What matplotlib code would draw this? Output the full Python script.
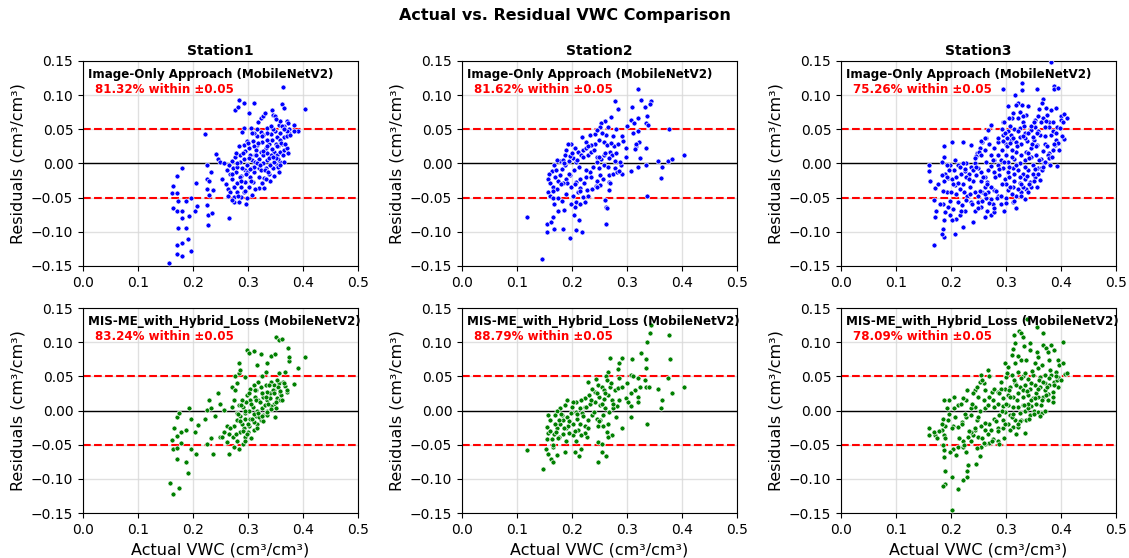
import numpy as np
import matplotlib
matplotlib.use("Agg")
import matplotlib.pyplot as plt

# ---- data (values in thousandths of cm3/cm3) ----
stations = ["Station1", "Station2", "Station3"]
models = ["Image-Only Approach (MobileNetV2)", "MIS-ME_with_Hybrid_Loss (MobileNetV2)"]
within_pct = [["81.32%", "81.62%", "75.26%"], ["83.24%", "88.79%", "78.09%"]]

s1_img_x = [156,171,180,163,162,171,173,163,171,180,180,172,188,196,192,188,171,180,191,171,180,196,204,208,205,222,226,226,229,226,229,226,228,234,228,233,237,241,245,250,253,257,260,263,266,277,281,283,293,301,310,297,307,
            293,305,289,318,323,327,331,343,345,349,361,365,364,403,356,371,373,383,391,375,374,334,323,317,309,298,292,283,294,285,277,271,265,273,279,287,295,298,307,313,323,332,338,344,352,359,366,362,354,347,341,335,328,320,311,303,295,288,280,274,275,283,280,271,267,262,
            353,358,364,366,371,359,353,346,338,329,326,320,309,301,292,288,329,317,326,334,341,349,365,358,350,310,301,304,312,320,328,335,292,285,280,289,298,307,317,323,332,340,347,354,275,268,264,271,310,317,335,328,366,370,359,350,344,
            270,275,280,285,290,295,300,305,310,315,320,325,330,335,340,345,350,355,360,365,370,298,302,308,312,318,322,328,332,338,342,348,352,358,362,368,372,288,282,278,296,304,314,326,336,346,356,366,376,384]
s1_img_y = [-146,-19,-7,-33,-43,-43,-55,-65,-70,-69,-80,-94,-55,-50,-77,-94,-119,-117,-110,-133,-135,-128,-69,-62,-28,43,-2,-22,-26,-37,-46,-61,-75,-72,-90,-12,-39,14,6,2,-23,1,-30,-37,-80,78,83,93,88,74,88,-59,-46,
            52,52,46,60,67,69,74,78,71,69,87,81,112,80,56,62,59,56,47,51,44,52,46,40,33,33,27,25,18,13,10,3,-2,-7,-12,-18,-10,-2,5,12,17,22,28,34,39,44,39,29,25,17,12,5,0,-6,-13,-20,-27,-34,-42,-49,-56,-56,-29,-22,-15,-10,
            12,17,12,20,22,2,-2,-7,-15,-21,-29,-36,-27,-34,-41,-49,-36,27,31,34,43,48,50,62,65,25,22,12,2,7,12,15,7,2,-5,-7,-12,-7,0,-10,-7,-2,2,6,-34,-42,-47,-54,44,51,44,42,55,47,34,29,21,
            -15,-35,0,-20,15,-40,30,-25,-5,20,-20,40,-10,25,-25,50,8,-5,30,2,40,-50,8,45,-38,30,-2,18,-22,8,55,-18,25,-2,55,28,15,-25,-48,15,-15,-8,12,-28,-12,10,-12,50,42,48]

s2_img_x = [146,119,155,155,161,165,167,175,184,186,196,208,218,204,212,208,205,214,223,220,229,228,237,243,245,251,260,261,264,262,267,267,268,275,278,282,290,286,289,307,320,336,335,357,363,362,374,381,403,377,
            320,326,344,342,333,309,284,279,271,260,252,251,266,262,258,263,249,242,234,225,219,232,242,246,230,220,211,205,198,193,190,187,178,168,163,159,157,160,165,157,160,166,173,174,178,181,187,195,202,208,212,203,196,189,191,199,207,215,222,226,232,238,245,252,258,269,276,284,292,299,298,287,278,272,280,
            317,321,323,334,316,307,312,320,335,339,336,320,314,267,258,249,245,235,226,216,196,184,172,171,184,202,211,215,257,251,269,
            165,170,175,180,185,190,195,200,205,210,215,220,225,230,235,240,245,250,255,260,265,270,275,280,290,300,310,168,182,198]
s2_img_y = [-140,-78,-100,-88,-85,-79,-96,-69,-96,-68,-109,-97,-100,-75,-82,-56,-64,-59,-56,-49,-47,-39,-38,-33,-25,-17,-54,-63,-65,-88,-39,-27,-17,-15,-7,-12,-15,-11,-2,-11,-5,-47,-2,3,-5,-21,4,7,13,50,
            109,93,91,87,82,82,80,91,68,62,59,54,54,42,32,27,34,29,27,31,39,42,43,49,12,20,17,22,28,29,20,12,3,-2,-11,-16,-22,-29,-34,-42,-47,-51,-37,-25,-17,-8,-2,3,8,2,-5,-10,-17,-22,-29,-34,-27,-22,-29,-20,-12,-5,2,7,12,17,25,29,33,22,10,2,3,12,15,
            25,31,8,22,29,64,59,66,59,56,69,47,21,8,-2,-7,10,17,22,12,11,5,5,-10,-29,-47,-42,-36,-22,-32,-29,
            -40,-20,-50,-30,0,-45,-15,15,-30,5,-40,10,-10,25,-20,20,-35,10,45,15,-5,30,40,50,40,55,45,-60,-55,-60]

s3_img_x = [382,294,329,329,357,387,387,394,316,303,321,329,340,326,313,310,321,331,337,352,358,367,365,373,382,391,375,367,378,400,406,411,400,393,406,397,389,382,379,370,361,352,358,346,334,325,314,304,292,295,285,279,270,264,273,267,256,252,248,261,272,285,292,300,309,318,327,339,350,357,346,337,328,319,310,300,291,303,314,325,334,345,355,364,369,358,349,340,331,321,312,303,294,285,278,272,279,288,298,306,315,326,334,343,352,346,337,328,319,310,300,291,319,313,334,296,285,279,273,265,261,255,249,243,236,228,222,213,206,198,192,190,183,187,195,202,210,218,225,232,240,246,254,261,268,272,276,273,261,266,255,249,243,240,236,230,224,216,210,207,213,220,225,228,222,216,210,201,207,198,189,188,186,188,184,169,171,169,171,161,160,160,183,187,187,201,222,236,245,251,255,262,272,295,305,308,255,264,192,186,195,204,234,243,249,256,264,279,284,304,313,322,331,340,349,358,364,370,376,385,391,385,379,370,364,349,335,326,309,302,294,
            300,305,310,315,320,325,330,335,340,345,350,355,360,365,370,375,380,385,390,395,298,302,308,312,318,322,328,332,338,342,348,352,356,362,368,372,378,388,398,282,288,292,296,286,280,276,268,262,258,252,246,240,234,228,222,216,210,204,198,192,186,180,176,172,196,218,238,256,270,244,232,208,200,212,226,250,265,278,290,300,314,328,342,356,368,384,392,402,404,330,340,350,360,318,308,296]
s3_img_y = [149,109,118,108,109,113,109,110,100,84,89,86,84,76,74,66,66,61,71,64,69,94,88,81,78,81,71,66,61,70,72,67,64,54,36,20,27,42,15,29,42,54,47,49,44,52,51,47,51,42,31,22,29,37,56,49,31,23,15,20,12,12,20,29,34,32,29,33,34,27,22,17,12,17,20,12,5,2,7,0,5,10,12,7,0,-7,-2,-10,-15,-10,-7,-12,-7,-2,5,-3,-12,-17,-23,-20,-25,-29,-22,-27,-20,-34,-37,-42,-47,-44,-51,-60,-65,-56,-52,-69,-47,-39,-34,-27,-20,-12,-6,0,-5,0,1,-2,-10,-2,-2,-15,-17,-26,-21,-23,-20,-15,-11,-15,-10,-17,-25,-34,-42,-52,-59,-76,-78,-69,-64,-56,-69,-86,-56,-47,-42,-37,-44,-32,-56,-61,-69,-54,-93,-76,-81,-83,-103,-75,-71,-83,-96,-108,-103,-119,-78,-54,-36,-25,-11,-2,2,10,25,31,31,27,11,17,33,38,57,61,66,55,12,2,-42,-59,-64,-66,-34,-42,-47,-42,-51,-71,-51,-39,-34,-37,-34,-42,-15,-15,-7,2,12,20,34,47,54,54,61,39,37,39,42,37,33,
            -30,-5,10,-15,25,-20,40,-5,15,55,-25,25,5,-10,40,25,-2,60,45,30,45,25,-35,38,-2,48,-30,55,-18,8,28,-8,44,-24,18,62,8,28,52,-40,-8,-30,2,38,-20,5,-10,-45,-20,-40,-5,-25,-45,-20,-30,-5,-45,-30,-55,-20,-40,-60,-30,-70,-10,-70,-60,-55,-58,8,-22,5,-42,-28,-8,-65,-30,-65,-48,-58,-55,-48,-30,-35,-5,10,-3,40,60,70,45,60,80,85,30,60]

s1_hyb_x = [159,163,174,188,191,171,163,171,178,171,179,162,166,171,174,188,197,205,197,192,203,209,221,226,232,229,226,232,236,240,245,250,249,256,261,257,266,271,274,271,277,280,277,283,284,286,294,298,301,310,323,317,335,341,349,351,356,362,373,375,374,403,391,383,368,356,332,326,319,310,304,314,323,332,341,348,356,364,368,371,358,353,359,347,350,349,341,335,327,319,312,304,297,291,283,280,286,294,301,309,317,326,334,340,347,335,326,298,289,280,274,268,265,273,280,275,283,291,295,300,310,317,323,310,301,292,285,289,295,304,314,328,335,262,253,
            285,290,295,300,305,310,315,320,325,330,335,340,345,350,355,360,365,370,298,302,308,312,318,322,328,332,338,342,348,352,358,362,288,282,278,294,306,316,326,336]
s1_hyb_y = [-106,-122,-113,-76,-92,-71,-56,-55,-48,-37,-31,-43,-25,-10,-3,-29,-56,-63,-12,4,-31,-21,-13,1,3,16,-49,-40,-63,-8,25,10,-39,-31,-22,1,-63,5,15,34,30,41,50,55,70,59,49,88,84,87,83,67,70,80,82,107,103,105,91,72,79,79,62,39,57,55,57,50,42,37,31,30,35,37,42,37,40,42,36,27,25,18,15,10,3,-9,6,15,20,15,20,15,13,5,8,-4,-8,-4,0,5,0,4,0,25,30,27,26,23,15,-14,-22,-26,-34,-39,-44,-53,-56,-49,-39,-31,-29,-20,-14,-17,-22,-26,-31,-19,-12,-12,-8,-7,-7,-46,-39,
            -15,-30,0,-20,10,-5,15,-10,25,8,-2,18,30,12,35,22,40,30,-35,25,-12,30,-3,12,-15,20,38,2,25,45,28,15,8,-5,-35,-45,-40,-25,-8,10]

s2_hyb_x = [343,341,377,336,326,334,378,309,291,286,269,284,266,261,263,243,229,248,254,258,269,278,284,286,308,320,333,334,335,340,357,374,381,403,363,362,337,323,314,307,299,301,307,320,320,308,291,286,281,272,266,258,249,242,236,231,223,217,208,201,191,187,178,172,169,157,160,155,157,154,153,157,161,166,148,119,163,167,172,178,184,191,199,207,214,223,232,242,251,260,268,275,257,251,245,248,257,263,272,266,248,254,254,261,248,228,223,217,211,208,205,213,217,202,195,190,184,177,171,165,223,229,236,219,209,202,193,181,177,
            160,165,170,175,180,185,190,195,200,205,210,215,220,225,230,235,240,245,250,255,260,265,270,275,280,290,300,310,172,188]
s2_hyb_y = [125,113,110,100,84,75,76,76,77,69,77,61,57,51,45,46,42,38,34,30,34,30,33,48,52,48,45,62,35,34,32,47,26,35,16,3,-20,35,30,26,19,13,6,20,13,-10,-25,15,6,15,22,17,20,27,32,22,18,15,13,13,16,8,3,0,-7,-7,-14,-24,-33,-41,-57,-64,-71,-76,-86,-58,-41,-34,-26,-20,-14,-9,-4,-2,3,5,9,13,8,3,-2,3,-7,-14,-13,-22,-22,-31,-36,-39,-46,-49,-61,-66,-75,-39,-33,-36,-29,-44,-61,-67,-57,-36,-33,-26,-34,-39,-31,-53,-22,-14,-7,-4,-12,-19,-22,-7,-14,
            -30,-50,-20,-40,-5,-25,-45,-15,5,-30,-5,-20,-8,5,-25,15,-2,25,-15,10,25,-20,40,10,-10,35,40,50,-65,-60]

s3_hyb_x = [339,356,323,328,331,314,367,316,333,343,356,367,373,382,387,403,310,304,316,328,337,352,358,365,379,394,397,403,407,411,391,382,370,361,349,340,331,321,310,300,291,298,307,316,325,334,343,352,361,370,379,387,385,376,367,385,358,349,340,331,321,313,304,295,285,276,270,275,267,270,260,252,255,243,249,260,261,252,243,237,228,222,213,206,196,187,192,186,190,183,187,195,204,213,220,228,237,248,254,261,268,276,285,288,270,261,255,252,246,231,230,229,221,212,201,190,190,186,202,187,187,186,204,212,222,228,222,214,231,240,249,243,236,160,160,171,169,295,304,313,322,316,307,298,288,279,270,285,294,334,325,334,343,351,358,365,364,355,346,340,331,322,313,304,294,337,328,346,370,376,393,395,279,285,291,
            300,305,310,315,320,325,330,335,340,345,350,355,360,365,370,375,380,385,390,395,298,302,308,312,318,322,328,332,338,342,348,352,358,362,368,372,378,388,400,292,288,282,278,272,268,262,256,250,244,238,232,226,220,214,208,202,196,190,184,178,174,198,210,224,236,248,260,274,286,296,308,318,256,262,248,240,230,218,206,298,312,322,344,358,376]
s3_hyb_y = [134,122,117,113,107,111,114,99,94,99,85,96,92,96,89,100,81,64,69,74,74,69,62,67,74,74,67,69,54,55,57,52,52,49,52,46,50,57,52,49,42,32,35,40,34,37,32,37,34,40,37,42,27,24,20,13,20,18,23,20,25,20,23,18,10,15,20,27,59,50,40,42,52,30,20,15,3,0,5,4,15,18,8,3,15,15,3,-12,-22,-29,-36,-14,-22,-24,-17,-9,-7,-14,-22,-29,-34,-41,-44,-49,-47,-49,-53,-66,-78,-80,-88,-98,-102,-115,-98,-88,-107,-111,-146,-68,-58,-50,-56,-53,-53,-61,-44,-40,-39,-36,-39,-29,-32,-26,-36,-36,-31,-14,-19,-24,-24,-14,-7,-2,-7,-12,-19,-26,-26,-33,-4,0,-7,0,-2,-4,8,10,6,3,8,5,5,8,6,-14,-14,15,30,15,44,49,32,27,32,
            10,30,-10,45,15,-15,30,55,10,40,-5,25,45,15,0,35,60,20,50,35,-20,55,20,-5,38,-20,48,8,28,-12,58,18,32,-8,42,22,48,38,45,0,25,-15,5,-28,8,-18,-40,-10,-25,10,-30,-5,-20,-40,-10,-25,-5,-40,-20,-30,-40,-60,-65,-50,-45,-55,-48,-45,-30,-40,-28,-35,45,30,35,25,30,10,20,70,90,80,88,78,85]

series = [[(s1_img_x, s1_img_y), (s2_img_x, s2_img_y), (s3_img_x, s3_img_y)],
          [(s1_hyb_x, s1_hyb_y), (s2_hyb_x, s2_hyb_y), (s3_hyb_x, s3_hyb_y)]]
colors = ["blue", "green"]

fig, axes = plt.subplots(2, 3, figsize=(11.29, 5.58), dpi=100)
fig.subplots_adjust(left=0.0735, right=0.9885, top=0.8907, bottom=0.0806, wspace=0.378, hspace=0.205)
fig.suptitle("Actual vs. Residual VWC Comparison", fontsize=11.5, fontweight="bold", y=0.985)

for r in range(2):
    for c in range(3):
        ax = axes[r, c]
        xs, ys = series[r][c]
        x = np.array(xs) / 1000.0
        y = np.array(ys) / 1000.0
        ax.scatter(x, y, s=13, color=colors[r], edgecolors="white", linewidths=0.5, zorder=3)
        ax.axhline(0, color="black", lw=1, zorder=2)
        ax.axhline(0.05, color="red", ls="--", lw=1.5, zorder=2)
        ax.axhline(-0.05, color="red", ls="--", lw=1.5, zorder=2)
        ax.set_xlim(0, 0.5)
        ax.set_ylim(-0.15, 0.15)
        ax.set_xticks([0, 0.1, 0.2, 0.3, 0.4, 0.5])
        ax.set_yticks([-0.15, -0.10, -0.05, 0.0, 0.05, 0.10, 0.15])
        ax.set_yticklabels(["−0.15", "−0.10", "−0.05", "0.00", "0.05", "0.10", "0.15"])
        ax.tick_params(labelsize=10)
        ax.grid(True, color="#d9d9d9", lw=1, alpha=0.8, zorder=0)
        ax.set_axisbelow(True)
        ax.set_ylabel("Residuals (cm³/cm³)", fontsize=11.5)
        if r == 1:
            ax.set_xlabel("Actual VWC (cm³/cm³)", fontsize=11.5)
        if r == 0:
            ax.set_title(stations[c], fontsize=10, fontweight="bold", pad=4)
        ax.text(0.02, 0.968, models[r], transform=ax.transAxes, fontsize=8.6,
                fontweight="bold", va="top", ha="left", zorder=5)
        ax.text(0.045, 0.892, f"{within_pct[r][c]} within ±0.05", transform=ax.transAxes,
                fontsize=8.6, fontweight="bold", color="red", va="top", ha="left", zorder=5)

fig.savefig("out.png", dpi=100)
